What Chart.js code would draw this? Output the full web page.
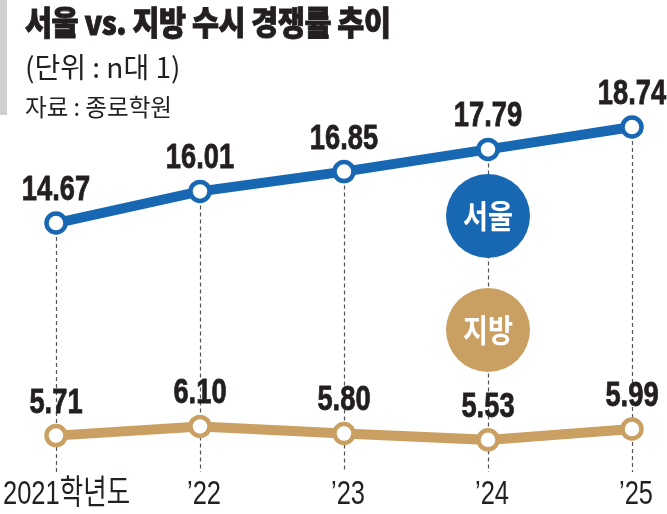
<!DOCTYPE html>
<html>
<head>
<meta charset="utf-8">
<script src="https://cdn.jsdelivr.net/npm/chart.js@4"></script>
<style>
  html, body { margin: 0; padding: 0; background: #fff; }
  .wrap { position: relative; width: 667px; height: 514px; overflow: hidden; }
  canvas { position: absolute; left: 0; top: 0; }
  .bar { position: absolute; left: 0; top: 0; width: 7px; height: 115px; background: #cfcfcf; }
  .txt { position: absolute; left: 25px; white-space: nowrap; transform-origin: 0 0; color: #231f20;
         font-family: "Noto Sans CJK KR", "Noto Sans", sans-serif; line-height: 1; }
  .t1 { top: 5px; font-size: 33px; font-weight: 900; transform: scaleX(0.89); letter-spacing: -0.5px;
        -webkit-text-stroke: 0.9px #231f20; }
  .t2 { top: 52px; font-size: 28px; font-weight: 400; transform: scaleX(1.0); }
  .t3 { top: 94px; font-size: 24px; font-weight: 400; transform: scaleX(0.98); }
</style>
</head>
<body>
<div class="wrap">
  <canvas id="chart" width="667" height="514"></canvas>
  <div class="bar"></div>
  <div class="txt t1">서울 vs. 지방 수시 경쟁률 추이</div>
  <div class="txt t2">(단위 : n대 1)</div>
  <div class="txt t3">자료 : 종로학원</div>
</div>
<script>
(function() {
    const years = ['2021학년도', '\u201922', '\u201923', '\u201924', '\u201925'];
    const seoul = [14.67, 16.01, 16.85, 17.79, 18.74];
    const jibang = [5.71, 6.10, 5.80, 5.53, 5.99];

    const BLUE = '#1767b3';
    const GOLD = '#c9a062';
    const INK = '#231f20';

    function squeezeText(ctx, text, x, y, font, color, align, sx, stroke) {
        ctx.save();
        ctx.font = font;
        ctx.fillStyle = color;
        ctx.textBaseline = 'alphabetic';
        const w = ctx.measureText(text).width * sx;
        let left = x;
        if (align === 'center') left = x - w / 2;
        if (align === 'right') left = x - w;
        ctx.translate(left, y);
        ctx.scale(sx, 1);
        ctx.textAlign = 'left';
        ctx.fillText(text, 0, 0);
        if (stroke) {
            ctx.strokeStyle = color;
            ctx.lineWidth = stroke;
            ctx.strokeText(text, 0, 0);
        }
        ctx.restore();
    }

    const decor = {
        id: 'decor',
        beforeDatasetsDraw(chart) {
            const ctx = chart.ctx;
            const xs = chart.scales.x;
            const pts = chart.getDatasetMeta(0).data;
            ctx.save();
            ctx.strokeStyle = '#555';
            ctx.lineWidth = 1.2;
            ctx.setLineDash([4, 3]);
            pts.forEach((p, i) => {
                const x = Math.round(xs.getPixelForValue(i)) + 0.5;
                ctx.beginPath();
                ctx.moveTo(x, p.y);
                ctx.lineTo(x, 472);
                ctx.stroke();
            });
            ctx.restore();
        },
        afterDatasetsDraw(chart) {
            const ctx = chart.ctx;
            const xs = chart.scales.x;
            const valFont = 'bold 35px "Liberation Sans", "Noto Sans CJK KR", sans-serif';
            [0, 1].forEach(d => {
                const meta = chart.getDatasetMeta(d);
                const vals = chart.data.datasets[d].data;
                meta.data.forEach((p, i) => {
                    squeezeText(ctx, vals[i].toFixed(2), p.x, p.y - 23, valFont, INK, 'center', 0.78, 0.8);
                });
            });

            // legend bubbles on the 4th guide line
            const lx = xs.getPixelForValue(3);
            [[216, BLUE, '서울'], [330, GOLD, '지방']].forEach(([cy, col, name]) => {
                ctx.save();
                ctx.beginPath();
                ctx.arc(lx, cy, 42, 0, Math.PI * 2);
                ctx.fillStyle = col;
                ctx.fill();
                ctx.restore();
                squeezeText(ctx, name, lx, cy + 12, 'bold 32px "Noto Sans CJK KR", sans-serif', '#fff', 'center', 0.85);
            });

            // category labels
            const labFont = '34px "Liberation Sans", "Noto Sans CJK KR", sans-serif';
            years.forEach((lab, i) => {
                const x = xs.getPixelForValue(i);
                if (i === 0) {
                    squeezeText(ctx, lab, 3, 504, labFont, INK, 'left', 0.75);
                } else {
                    squeezeText(ctx, lab, x + 4, 504, labFont, INK, 'center', 0.75);
                }
            });
        }
    };

    const ctx = document.getElementById('chart');

    new Chart(ctx, {
        type: 'line',
        data: {
            labels: years,
            datasets: [{
                label: '서울',
                data: seoul,
                yAxisID: 'y',
                borderColor: BLUE,
                borderWidth: 10,
                pointRadius: 9.5,
                pointBorderWidth: 4.5,
                pointBackgroundColor: '#fff',
                pointBorderColor: BLUE,
                tension: 0,
                clip: false
            }, {
                label: '지방',
                data: jibang,
                yAxisID: 'y2',
                borderColor: GOLD,
                borderWidth: 10,
                pointRadius: 9.5,
                pointBorderWidth: 4.5,
                pointBackgroundColor: '#fff',
                pointBorderColor: GOLD,
                tension: 0,
                clip: false
            }]
        },
        options: {
            responsive: false,
            animation: false,
            layout: { padding: { left: 56, right: 35, top: 100, bottom: 60 } },
            scales: {
                x: { display: false, offset: false },
                y: { display: false, min: 4.879, max: 19.885 },
                y2: { display: false, min: 4.931, max: 19.937 }
            },
            plugins: {
                legend: { display: false },
                tooltip: { enabled: false }
            }
        },
        plugins: [decor]
    });
})();
</script>
</body>
</html>
